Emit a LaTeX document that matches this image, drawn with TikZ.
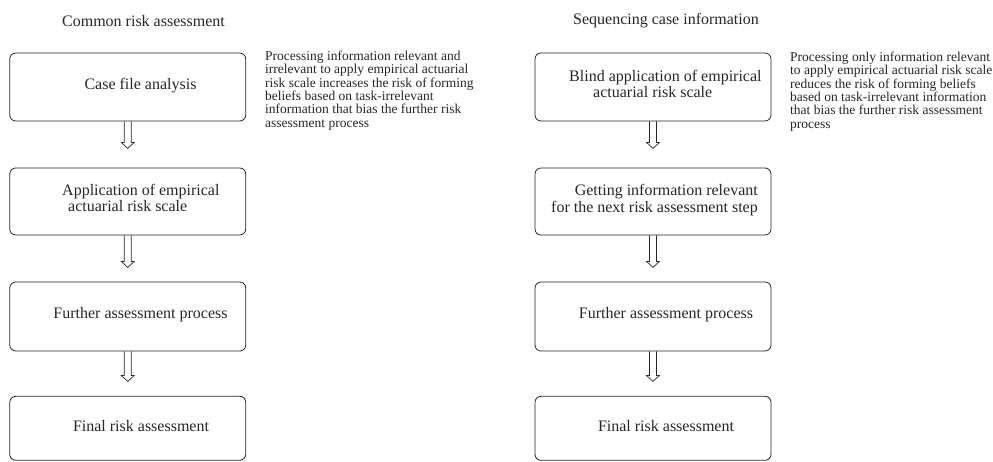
\documentclass[tikz,border=0pt]{standalone}
\usepackage{fontspec}
\setmainfont{Liberation Serif}
\usetikzlibrary{calc}
\tikzset{
  stepbox/.style={draw=black!85, line width=0.8pt, rounded corners=6pt, minimum width=236pt, inner sep=0pt},
  lbl/.style={inner sep=0pt, text=black!85, font=\fontsize{16}{16.7}\selectfont},
  note/.style={inner sep=0pt, text=black!85, align=left, font=\fontsize{13.5}{13.35}\selectfont},
  hollow/.style={draw=black!85, line width=0.7pt, line join=miter}
}
\newcommand\hollowarrow[2]{\draw[hollow] ($(#1)+(-3.5,0)$) -- ++(0,#2-6) -- ++(-3,0) -- ++(6.5,6) -- ++(6.5,-6) -- ++(-3,0) -- ++(0,-#2+6);}
\begin{document}
\begin{tikzpicture}[x=1pt,y=-1pt]
\useasboundingbox (0,0) rectangle (993,461);
% left column
\node[lbl, anchor=base] (t1) at (143.5,26) {Common risk assessment};
\node[stepbox, minimum height=68pt] (a1) at (127.75,87) {};
\node[stepbox, minimum height=67pt] (a2) at (127.75,201.5) {};
\node[stepbox, minimum height=69pt] (a3) at (127.75,316.5) {};
\node[stepbox, minimum height=64pt] (a4) at (127.75,428.3) {};
\node[lbl, anchor=base] (a1t) at (140.5,89.3) {Case file analysis};
\node[lbl, anchor=base west, align=left] (a2t) at (62,211.7) {Application of empirical\\\hspace*{6pt}actuarial risk scale};
\node[lbl, anchor=base] (a3t) at (140.5,318.3) {Further assessment process};
\node[lbl, anchor=base] (a4t) at (141,431.7) {Final risk assessment};
\node[note, anchor=base west] (n1) at (265,127.3) {Processing information relevant and\\irrelevant to apply empirical actuarial\\risk scale increases the risk of forming\\beliefs based on task-irrelevant\\information that bias the further risk\\assessment process};
\hollowarrow{a1.south}{27}
\hollowarrow{a2.south}{32}
\hollowarrow{a3.south}{30}
% right column
\node[lbl, anchor=base] (t2) at (666,24.3) {Sequencing case information};
\node[stepbox, minimum height=68pt] (b1) at (653,87) {};
\node[stepbox, minimum height=67pt] (b2) at (653,201.5) {};
\node[stepbox, minimum height=69pt] (b3) at (653,316.5) {};
\node[stepbox, minimum height=64pt] (b4) at (653,428.3) {};
\node[lbl, anchor=base west, align=left] (b1t) at (569,97.7) {Blind application of empirical\\\hspace*{24pt}actuarial risk scale};
\node[lbl, anchor=base east, align=right, font=\fontsize{16}{17}\selectfont] (b2t) at (758,212) {Getting information relevant\\for the next risk assessment step};
\node[lbl, anchor=base] (b3t) at (666,318.3) {Further assessment process};
\node[lbl, anchor=base] (b4t) at (666,431.7) {Final risk assessment};
\node[note, anchor=base west] (n2) at (790,128.3) {Processing only information relevant\\to apply empirical actuarial risk scale\\reduces the risk of forming beliefs\\based on task-irrelevant information\\that bias the further risk assessment\\process};
\hollowarrow{b1.south}{27}
\hollowarrow{b2.south}{32}
\hollowarrow{b3.south}{30}
\end{tikzpicture}
\end{document}
